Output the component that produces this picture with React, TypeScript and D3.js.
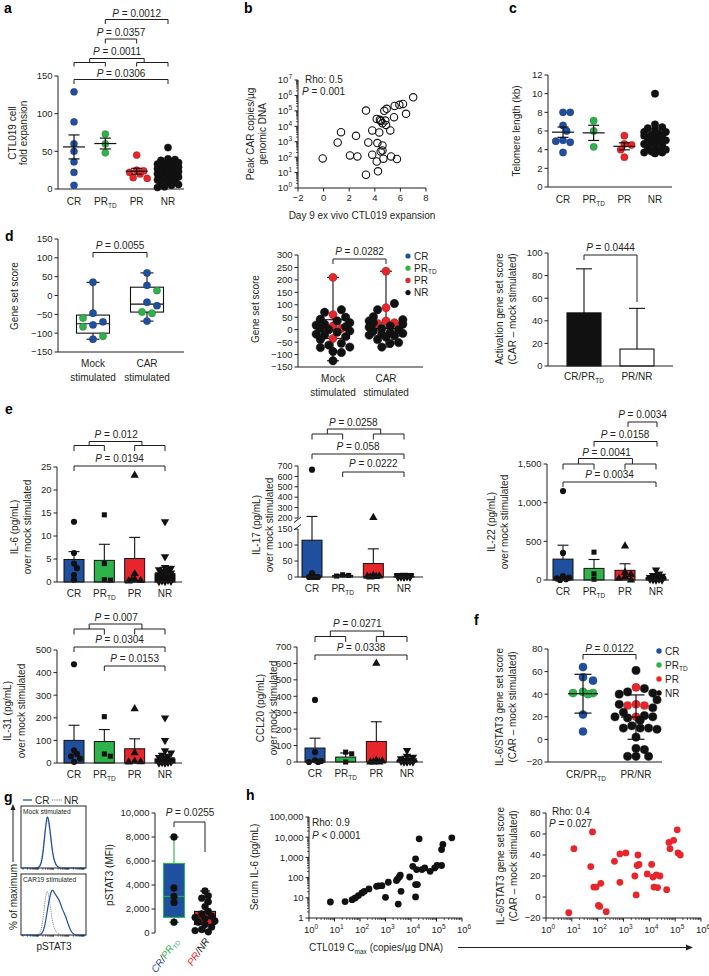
import * as d3 from "d3";

const FONT = "'Liberation Sans', Arial, Helvetica, sans-serif";
const BLUE = "#1f4f9f";
const GREEN = "#2eb34b";
const RED = "#e7262b";
const INK = "#231f20";
const GROUP_COLORS = [BLUE, GREEN, RED, "#111"];

// ---- a: CTL019 fold expansion
const groups = ["CR", "PR_TD", "PR", "NR"];
const aCR = [129, 89, 60, 50, 36, 22, 5];
const aPRTD = [73, 60, 48];
const aPR = [45, 25, 24, 22, 20, 15, 14];
const aNR = [55, 40, 39, 38, 36, 35, 34, 33, 32, 31, 30, 29, 28, 28, 27, 26, 25, 24, 23, 22, 21, 20, 19, 18, 17, 16, 15, 14, 12, 11, 10, 8, 6, 5, 3, 2];
const aTicks = [0, 50, 100, 150];

// ---- b: day 9 expansion vs peak CAR copies
const bExpansion = [-0.07, 1.1, 1.36, 2.06, 2.64, 2.53, 3.31, 3.31, 3.49, 3.8, 3.8, 4.15, 4.2, 4.25, 4.15, 4.4, 4.35, 4.48, 4.46, 4.6, 4.6, 4.6, 4.67, 4.74, 4.93, 4.88, 5.21, 5.27, 5.5, 5.55, 5.73, 5.92, 6.2, 6.44, 7.0, 4.82];
const bPeakCAR = [83, 891, 4170, 129, 112, 2400, 104700, 7.2, 891, 5370, 145, 52, 813, 12, 30200, 26300, 3980, 22400, 234, 15800, 575, 269, 79, 100000, 135000, 12300, 5370, 112, 38900, 209000, 76, 245000, 282000, 64600, 759000, 23400];
const bTicksX = [-2, 0, 2, 4, 6, 8];
const bExponents = [0, 1, 2, 3, 4, 5, 6, 7];

// ---- c: telomere length
const cCR = [8.0, 8.0, 6.6, 6.0, 5.0, 4.8, 4.9, 3.7];
const cPRTD = [7.1, 6.0, 4.3];
const cPR = [5.5, 4.6, 4.5, 4.0, 3.2];
const cNR = [10.0, 6.7, 6.4, 6.3, 6.1, 5.9, 5.9, 5.7, 5.6, 5.5, 5.5, 5.3, 5.2, 5.0, 4.9, 4.8, 4.6, 4.5, 4.4, 4.2, 4.0, 3.9, 3.8, 3.7, 3.7, 3.6];
const cTicks = [0, 2, 4, 6, 8, 10, 12];

// ---- d: gene set scores
const stimCats = ["Mock", "CAR"];
const dMockBlue = [35, -47, -78, -70, -116];
const dMockGreen = [-60, -83, -108];
const dCarBlue = [60, 27, -18, -27, -68];
const dCarGreen = [13, -47, -44];
const dMockBox = [-116, -100, -75, -52, 35];
const dCarBox = [-68, -44, -23, 22, 60];
const dTicks = [-150, -100, -50, 0, 50, 100, 150];

const dmMockRed = [210, 60, 15, 5, -35];
const dmMockBlack = [80, 70, 50, 42, 35, 28, 22, 18, 12, 5, 0, -5, -10, -18, -22, -28, -40, -55, -62, -70, -72, -88, -92, -125];
const dmCarRed = [235, 88, 35, 28, 25];
const dmCarBlack = [105, 80, 52, 40, 35, 28, 22, 15, 10, 5, 0, -5, -10, -15, -18, -22, -25, -30, -40, -52, -55, -70];
const dmMockBox = [-125, -35, -2, 40, 210];
const dmCarBox = [-70, -25, 5, 28, 235];
const dmTicks = [-150, -100, -50, 0, 50, 100, 150, 200, 250, 300];

const actCats = ["CR/PR_TD", "PR/NR"];
const actMean = [47, 15];
const actErr = [86, 51];
const actTicks = [0, 20, 40, 60, 80, 100];

// ---- e: cytokines
const il6CR = [13.1, 6.3, 4.0, 3.0, 1.5, 0.5];
const il6PRTD = [14.6, 4.0, 0.5, 0.4];
const il6PR = [23.2, 1.8, 0.6, 0.3, 0.2, 0.4];
const il6NR = [13.1, 5.5, 3.2, 3.0, 2.7, 2.5, 2.3, 2.0, 1.8, 1.6, 1.3, 1.1, 0.9, 0.7, 0.5, 0.4, 0.3, 0.2, 0.1, 0.1];
const il6Mean = [4.9, 4.7, 5.1, 1.8];
const il6Sem = [6.6, 8.2, 9.7, 3.2];

const il17CR = [665, 12, 0, 0, 0, 0];
const il17PRTD = [7, 5, 3];
const il17PR = [205, 5, 3, 2, 1, 0];
const il17NR = [6, 5, 5, 4, 3, 3, 2, 2, 1, 1, 0, 0, 0, 0];
const il17Mean = [115, 5, 42, 2];
const il17Sem = [215, 7, 88, 3];
const il17LowTicks = [0, 50, 100, 150];
const il17HighTicks = [200, 300, 400, 500, 600, 700];

const il22CR = [1150, 350, 50, 30, 20, 10, 0];
const il22PRTD = [360, 80, 10];
const il22PR = [440, 100, 70, 40, 20, 0];
const il22NR = [130, 80, 60, 50, 45, 35, 30, 20, 20, 15, 10, 10, 5, 0, 0];
const il22Mean = [270, 150, 125, 30];
const il22Sem = [450, 265, 210, 45];

const il31CR = [437, 56, 40, 30, 20, 5];
const il31PRTD = [205, 40, 30];
const il31PR = [240, 45, 8, 5, 4];
const il31NR = [200, 100, 55, 45, 35, 30, 25, 20, 15, 12, 10, 8, 5, 5, 3, 2, 0, 0];
const il31Mean = [100, 95, 63, 18];
const il31Sem = [167, 148, 107, 30];

const ccl20CR = [378, 60, 10, 5, 0, 0];
const ccl20PRTD = [60, 50, 0];
const ccl20PR = [600, 10, 5, 0, 0, 0];
const ccl20NR = [70, 35, 30, 20, 15, 10, 8, 5, 5, 3, 0, 0, 0];
const ccl20Mean = [85, 30, 125, 10];
const ccl20Sem = [145, 55, 245, 35];

// ---- f: IL-6/STAT3 gene set
const fCRBlue = [64, 55, 52, 22, 7];
const fPRTDGreen = [42, 41, 41, 40];
const fPRRed = [46, 31, 30, 30, 20];
const fNRBlack = [61, 45, 42, 41, 40, 35, 31, 28, 24, 21, 20, 20, 19, 17, 12, 10, 10, 10, 9, 2, -8, -9, -15, -15, -15];
const fTicks = [-20, 0, 20, 40, 60, 80];

// ---- g: pSTAT3
const gMockCR = [0, 0, 0, 0, 0, 0, 0, 1, 8, 45, 96, 72, 28, 8, 2, 0, 0, 0, 0, 0, 0, 0, 0, 0, 0, 0];
const gMockNR = [0, 0, 0, 0, 0, 0, 0, 2, 12, 55, 88, 66, 26, 8, 2, 0, 0, 0, 0, 0, 0, 0, 0, 0, 0, 0];
const gCarCR = [0, 0, 0, 0, 0, 0, 0, 0, 2, 10, 38, 64, 80, 70, 64, 56, 42, 34, 20, 8, 2, 0, 0, 0, 0, 0];
const gCarNR = [0, 0, 0, 0, 0, 0, 0, 2, 10, 48, 84, 58, 24, 8, 3, 1, 0, 0, 0, 0, 0, 0, 0, 0, 0, 0];
const gBoxCR = [900, 1300, 3050, 5800, 8000];
const gBoxNR = [100, 700, 1250, 1800, 3500];
const gPtsCR = [8000, 3750, 3050, 2550, 900];
const gPtsNR = [3500, 3100, 2900, 2600, 2200, 1800, 1600, 1400, 1300, 1200, 1000, 900, 700, 500, 300, 200, 100];
const gTicks = [0, 2000, 4000, 6000, 8000, 10000];

// ---- h: Cmax correlations
const hCmax = [6.9, 26, 49, 65, 87, 120, 148, 224, 447, 525, 724, 1000, 1290, 2690, 2950, 3470, 3800, 3160, 4070, 8900, 15100, 15100, 15100, 16600, 17800, 20900, 26900, 56200, 85100, 105000, 158000, 158000, 178000, 398000, 11700, 34700];
const hIL6 = [6.2, 6.5, 8.1, 9.8, 12.9, 17.4, 20.9, 27.5, 37, 39, 40, 10.5, 59, 71, 85, 107, 132, 4.9, 21, 107, 45, 11, 850, 251, 45, 8300, 251, 204, 302, 398, 398, 2450, 4370, 9330, 363, 302];
const hrCmax = [7.6, 12, 54, 63, 71, 87, 107, 120, 132, 214, 447, 724, 724, 1230, 2750, 3090, 3390, 3630, 3980, 8320, 12300, 13800, 15100, 18600, 20900, 25700, 46800, 57500, 63100, 87100, 120000, 129000, 158000];
const hrScore = [-15, 46, 29, 62, 9.5, 9.5, -8, -9, 13, -14, 34, 14, 41, 42, 20, 2, 30, 40, 31, 22, 31, 19, 9.5, 21, 9, 20, 7, 52, 46, 54, 64, 42, 40];
const hIL6Ticks = [1, 10, 100, 1000, 10000, 100000];
const hXExponents = [0, 1, 2, 3, 4, 5, 6];
const hrTicks = [-20, 0, 20, 40, 60, 80];

const comma = d3.format(",");

// ---------- helpers
function swarm(vals: number[], y: (v: number) => number, cx: number, minD: number, step: number, maxOff: number) {
  const placed: { x: number; y: number }[] = [];
  const n = Math.floor(maxOff / step);
  for (const v of vals) {
    const py = y(v);
    let best = cx;
    let bestD = -1;
    for (let k = 0; k <= 2 * n; k++) {
      const off = (k % 2 === 1 ? 1 : -1) * Math.ceil(k / 2) * step;
      const px = cx + off;
      let dd = Infinity;
      for (const p of placed) dd = Math.min(dd, Math.hypot(p.x - px, p.y - py));
      if (dd >= minD) { best = px; bestD = dd; break; }
      if (dd > bestD) { bestD = dd; best = px; }
    }
    placed.push({ x: best, y: py });
  }
  return placed;
}

function Lbl({ s, fs = 10 }: { s: string; fs?: number }) {
  const i = s.indexOf("_TD");
  if (i < 0) return <>{s}</>;
  const rest = s.slice(i + 3);
  return (
    <>
      {s.slice(0, i)}
      <tspan fontSize={fs * 0.65} dy={2.5}>TD</tspan>
      {rest ? <tspan dy={-2.5}>{rest}</tspan> : null}
    </>
  );
}

function Cat({ x, y, c, fs = 10 }: { x: number; y: number; c: string; fs?: number }) {
  return <text x={x} y={y} textAnchor="middle" fontSize={fs}><Lbl s={c} fs={fs} /></text>;
}

function PanelLabel({ x, y, t }: { x: number; y: number; t: string }) {
  return <text x={x} y={y} fontSize={14} fontWeight="bold" fill="#000">{t}</text>;
}

function VTitle({ x, y, lines, gap = 12.5, fs = 10 }: { x: number; y: number; lines: string[]; gap?: number; fs?: number }) {
  return (
    <g>
      {lines.map((l, i) => (
        <text key={i} transform={`translate(${x + i * gap},${y}) rotate(-90)`} textAnchor="middle" fontSize={fs}>{l}</text>
      ))}
    </g>
  );
}

function PText({ x, y, p, rel = "=" }: { x: number; y: number; p: string; rel?: string }) {
  return (
    <text x={x} y={y} textAnchor="middle" fontSize={10}>
      <tspan fontStyle="italic">P</tspan> {rel} {p}
    </text>
  );
}

function LeftAxis({ x, y, ticks, fmt = comma, fs = 9.5 }: { x: number; y: any; ticks: number[]; fmt?: (n: number) => string; fs?: number }) {
  const [a, b] = y.range();
  return (
    <g>
      <line x1={x} x2={x} y1={a} y2={b} stroke={INK} />
      {ticks.map((t) => (
        <g key={t}>
          <line x1={x - 3.5} x2={x} y1={y(t)} y2={y(t)} stroke={INK} />
          <text x={x - 5.5} y={y(t) + 3.4} textAnchor="end" fontSize={fs}>{fmt(t)}</text>
        </g>
      ))}
    </g>
  );
}

function Bracket({ x1, x2, y, l1 = 5, l2 = 5 }: { x1: number; x2: number; y: number; l1?: number; l2?: number }) {
  return <path d={`M${x1},${y + l1}V${y}H${x2}V${y + l2}`} fill="none" stroke={INK} strokeWidth={1} />;
}

function GroupBracket({ a1, a2, b1, b2, yTop, ySub, leg = 5.5 }: { a1: number; a2: number; b1: number; b2: number; yTop: number; ySub: number; leg?: number }) {
  const cl = (a1 + a2) / 2;
  const cr = b1 + 0.24 * (b2 - b1);
  return (
    <g fill="none" stroke={INK} strokeWidth={1}>
      <path d={`M${a1},${ySub + leg}V${ySub}H${a2}V${ySub + leg}`} />
      <path d={`M${b1},${ySub + leg}V${ySub}H${b2}V${ySub + leg}`} />
      <path d={`M${cl},${ySub}V${yTop}H${cr}V${ySub}`} />
    </g>
  );
}

function MeanErr({ cx, y, vals, sd = false, hw, cw }: { cx: number; y: any; vals: number[]; sd?: boolean; hw: number; cw: number }) {
  const m = d3.mean(vals) as number;
  const s = d3.deviation(vals) ?? 0;
  const e = sd ? s : s / Math.sqrt(vals.length);
  const y0 = y(m), yh = y(m + e), yl = y(m - e);
  return (
    <g stroke="#111" strokeWidth={1.2} fill="none">
      <line x1={cx - hw} x2={cx + hw} y1={y0} y2={y0} />
      <line x1={cx} x2={cx} y1={yh} y2={yl} />
      <line x1={cx - cw} x2={cx + cw} y1={yh} y2={yh} />
      <line x1={cx - cw} x2={cx + cw} y1={yl} y2={yl} />
    </g>
  );
}

function Box({ cx, w, y, s, stroke = "#111", fill = "none", cap = 12 }: { cx: number; w: number; y: any; s: number[]; stroke?: string; fill?: string; cap?: number }) {
  const [mn, q1, md, q3, mx] = s;
  return (
    <g stroke={stroke} strokeWidth={1.1} fill="none">
      <line x1={cx} x2={cx} y1={y(mx)} y2={y(q3)} />
      <line x1={cx} x2={cx} y1={y(q1)} y2={y(mn)} />
      <line x1={cx - cap / 2} x2={cx + cap / 2} y1={y(mx)} y2={y(mx)} />
      <line x1={cx - cap / 2} x2={cx + cap / 2} y1={y(mn)} y2={y(mn)} />
      <rect x={cx - w / 2} y={y(q3)} width={w} height={y(q1) - y(q3)} fill={fill} />
      <line x1={cx - w / 2} x2={cx + w / 2} y1={y(md)} y2={y(md)} />
    </g>
  );
}

function ColorDots({ cx, y, vals, colors, r, minD, step, maxOff }: { cx: number; y: any; vals: number[]; colors: string[]; r: number; minD: number; step: number; maxOff: number }) {
  const pts = swarm(vals, y, cx, minD, step, maxOff);
  return (
    <g>
      {pts.map((p, i) => (
        <circle key={i} cx={p.x} cy={p.y} r={r} fill={colors[i]} stroke={colors[i] === "#111" ? "#111" : "rgba(0,0,0,0.35)"} strokeWidth={0.5} />
      ))}
    </g>
  );
}

// ---------- panels
function PanelA() {
  const y = d3.scaleLinear().domain([0, 150]).range([189, 76]);
  const x = d3.scalePoint<string>().domain(groups).range([74, 168]);
  const sets = [aCR, aPRTD, aPR, aNR];
  const X = (g: string) => x(g) as number;
  return (
    <g>
      <PanelLabel x={4} y={13} t="a" />
      <LeftAxis x={58} y={y} ticks={aTicks} />
      <line x1={58} x2={184} y1={189} y2={189} stroke={INK} />
      {groups.map((g) => <Cat key={g} x={X(g)} y={205} c={g} />)}
      <VTitle x={16} y={133} lines={["CTL019 cell", "fold expansion"]} gap={11} />
      {sets.map((vals, i) => (
        <ColorDots key={i} cx={X(groups[i])} y={y} vals={vals} colors={vals.map(() => GROUP_COLORS[i])} r={3.6} minD={6} step={3.5} maxOff={12} />
      ))}
      {sets.map((vals, i) => <MeanErr key={i} cx={X(groups[i])} y={y} vals={vals} hw={11} cw={5.5} />)}
      <PText x={(X("PR_TD") + X("NR")) / 2} y={17} p="0.0012" />
      <Bracket x1={X("PR_TD")} x2={X("NR")} y={19.5} l1={4.5} l2={4.5} />
      <PText x={(X("PR_TD") + X("PR")) / 2} y={35.5} p="0.0357" />
      <Bracket x1={X("PR_TD")} x2={X("PR")} y={39} l1={4.5} l2={4.5} />
      <PText x={117} y={54.5} p="0.0011" />
      <GroupBracket a1={X("CR")} a2={X("PR_TD")} b1={X("PR")} b2={X("NR")} yTop={58.5} ySub={62.5} leg={4} />
      <PText x={(X("CR") + X("NR")) / 2} y={76.5} p="0.0306" />
      <Bracket x1={X("CR")} x2={X("NR")} y={79.5} l1={4.5} l2={4.5} />
    </g>
  );
}

function PanelB() {
  const x = d3.scaleLinear().domain([-2, 8]).range([298, 426]);
  const y = d3.scaleLog().domain([1, 1e7]).range([188, 80]);
  const minors: number[] = [];
  bExponents.slice(0, -1).forEach((e) => [2, 3, 4, 5, 6, 7, 8, 9].forEach((m) => minors.push(m * Math.pow(10, e))));
  return (
    <g>
      <PanelLabel x={244} y={13} t="b" />
      <line x1={298} x2={298} y1={188} y2={80} stroke={INK} />
      <line x1={298} x2={426} y1={188} y2={188} stroke={INK} />
      {minors.map((m, i) => <line key={i} x1={296} x2={298} y1={y(m)} y2={y(m)} stroke={INK} strokeWidth={0.8} />)}
      {bExponents.map((e) => (
        <g key={e}>
          <line x1={294.5} x2={298} y1={y(Math.pow(10, e))} y2={y(Math.pow(10, e))} stroke={INK} />
          <text x={292} y={y(Math.pow(10, e)) + 3.4} textAnchor="end" fontSize={9.5}>10<tspan dy={-4} fontSize={6.5}>{e}</tspan></text>
        </g>
      ))}
      {bTicksX.map((t) => (
        <g key={t}>
          <line x1={x(t)} x2={x(t)} y1={188} y2={191.5} stroke={INK} />
          <text x={x(t)} y={201} textAnchor="middle" fontSize={9.5}>{comma(t)}</text>
        </g>
      ))}
      {bExpansion.map((v, i) => (
        <circle key={i} cx={x(v)} cy={y(bPeakCAR[i])} r={3.7} fill="none" stroke="#111" strokeWidth={1.1} />
      ))}
      <text x={305} y={83} fontSize={10}>Rho: 0.5</text>
      <text x={302} y={95} fontSize={10}><tspan fontStyle="italic">P</tspan> = 0.001</text>
      <text x={362} y={219} textAnchor="middle" fontSize={10}>Day 9 ex vivo CTL019 expansion</text>
      <VTitle x={254} y={134} lines={["Peak CAR copies/µg", "genomic DNA"]} gap={12} />
    </g>
  );
}

function PanelC() {
  const y = d3.scaleLinear().domain([0, 12]).range([187, 75]);
  const x = d3.scalePoint<string>().domain(groups).range([563, 655]);
  const sets = [cCR, cPRTD, cPR, cNR];
  const X = (g: string) => x(g) as number;
  return (
    <g>
      <PanelLabel x={509} y={13} t="c" />
      <LeftAxis x={548} y={y} ticks={cTicks} />
      <line x1={548} x2={672} y1={187} y2={187} stroke={INK} />
      {groups.map((g) => <Cat key={g} x={X(g)} y={203} c={g} />)}
      <VTitle x={520} y={131} lines={["Telomere length (kb)"]} />
      {sets.map((vals, i) => (
        <ColorDots key={i} cx={X(groups[i])} y={y} vals={vals} colors={vals.map(() => GROUP_COLORS[i])} r={3.7} minD={6.2} step={3.6} maxOff={13} />
      ))}
      {sets.map((vals, i) => <MeanErr key={i} cx={X(groups[i])} y={y} vals={vals} hw={11} cw={5.5} />)}
    </g>
  );
}

function PanelDLeft() {
  const y = d3.scaleLinear().domain([-150, 150]).range([352, 239]);
  const x = d3.scalePoint<string>().domain(stimCats).range([93, 147]);
  const mock = [...dMockBlue, ...dMockGreen];
  const car = [...dCarBlue, ...dCarGreen];
  const mockC = [...dMockBlue.map(() => BLUE), ...dMockGreen.map(() => GREEN)];
  const carC = [...dCarBlue.map(() => BLUE), ...dCarGreen.map(() => GREEN)];
  const X = (g: string) => x(g) as number;
  return (
    <g>
      <PanelLabel x={5} y={241} t="d" />
      <LeftAxis x={58} y={y} ticks={dTicks} />
      <line x1={58} x2={184} y1={352} y2={352} stroke={INK} />
      <Box cx={X("Mock")} w={33} y={y} s={dMockBox} cap={13} />
      <Box cx={X("CAR")} w={33} y={y} s={dCarBox} cap={13} />
      <ColorDots cx={X("Mock")} y={y} vals={mock} colors={mockC} r={3.7} minD={8} step={5} maxOff={15} />
      <ColorDots cx={X("CAR")} y={y} vals={car} colors={carC} r={3.7} minD={8} step={5} maxOff={15} />
      {stimCats.map((c) => (
        <g key={c}>
          <text x={X(c)} y={367} textAnchor="middle" fontSize={10}>{c}</text>
          <text x={X(c)} y={381} textAnchor="middle" fontSize={10}>stimulated</text>
        </g>
      ))}
      <VTitle x={18} y={296} lines={["Gene set score"]} />
      <PText x={(X("Mock") + X("CAR")) / 2} y={248.5} p="0.0055" />
      <Bracket x1={X("Mock")} x2={X("CAR")} y={252.5} l1={5} l2={5} />
    </g>
  );
}

function PanelDMid() {
  const y = d3.scaleLinear().domain([-150, 300]).range([367, 255]);
  const x = d3.scalePoint<string>().domain(stimCats).range([333, 386]);
  const mock = [...dmMockRed, ...dmMockBlack];
  const car = [...dmCarRed, ...dmCarBlack];
  const mockC = [...dmMockRed.map(() => RED), ...dmMockBlack.map(() => "#111")];
  const carC = [...dmCarRed.map(() => RED), ...dmCarBlack.map(() => "#111")];
  const X = (g: string) => x(g) as number;
  const legend = ["CR", "PR_TD", "PR", "NR"];
  return (
    <g>
      <LeftAxis x={298} y={y} ticks={dmTicks} />
      <line x1={298} x2={423} y1={367} y2={367} stroke={INK} />
      <Box cx={X("Mock")} w={33} y={y} s={dmMockBox} cap={12} />
      <Box cx={X("CAR")} w={33} y={y} s={dmCarBox} cap={12} />
      <ColorDots cx={X("Mock")} y={y} vals={mock} colors={mockC} r={4.2} minD={7.5} step={4.2} maxOff={17} />
      <ColorDots cx={X("CAR")} y={y} vals={car} colors={carC} r={4.2} minD={7.5} step={4.2} maxOff={17} />
      {stimCats.map((c) => (
        <g key={c}>
          <text x={X(c)} y={382} textAnchor="middle" fontSize={10}>{c}</text>
          <text x={X(c)} y={396} textAnchor="middle" fontSize={10}>stimulated</text>
        </g>
      ))}
      <VTitle x={259} y={309} lines={["Gene set score"]} />
      <PText x={(X("Mock") + X("CAR")) / 2} y={255} p="0.0282" />
      <Bracket x1={X("Mock")} x2={X("CAR")} y={259} l1={5} l2={5} />
      {legend.map((l, i) => (
        <g key={l}>
          <circle cx={408} cy={256 + i * 12.2} r={2.6} fill={GROUP_COLORS[i]} />
          <text x={414} y={259.5 + i * 12.2} fontSize={10}><Lbl s={l} /></text>
        </g>
      ))}
    </g>
  );
}

function PanelDRight() {
  const y = d3.scaleLinear().domain([0, 100]).range([366, 253]);
  const x = d3.scalePoint<string>().domain(actCats).range([584, 637]);
  const X = (g: string) => x(g) as number;
  const fills = ["#111", "#fff"];
  return (
    <g>
      <LeftAxis x={548} y={y} ticks={actTicks} />
      {actCats.map((c, i) => (
        <g key={c}>
          <line x1={X(c)} x2={X(c)} y1={y(actMean[i])} y2={y(actErr[i])} stroke="#111" strokeWidth={1.1} />
          <line x1={X(c) - 8} x2={X(c) + 8} y1={y(actErr[i])} y2={y(actErr[i])} stroke="#111" strokeWidth={1.1} />
          <rect x={X(c) - 17} y={y(actMean[i])} width={34} height={y(0) - y(actMean[i])} fill={fills[i]} stroke="#111" strokeWidth={1.1} />
          <Cat x={X(c)} y={380} c={c} />
        </g>
      ))}
      <line x1={548} x2={673} y1={366} y2={366} stroke={INK} />
      <VTitle x={503} y={309} lines={["Activation gene set score", "(CAR \u2013 mock stimulated)"]} gap={12.5} />
      <PText x={(X("CR/PR_TD") + X("PR/NR")) / 2} y={250.5} p="0.0444" />
      <Bracket x1={X("CR/PR_TD")} x2={X("PR/NR")} y={255} l1={5} l2={47} />
    </g>
  );
}

const SYMBOLS = [d3.symbolCircle, d3.symbolSquare, d3.symbolTriangle, d3.symbolTriangle];

function CytoPanel({ yf, xs, base, axisX, xEnd, sets, means, errs, catY }: { yf: (v: number) => number; xs: [number, number]; base: number; axisX: number; xEnd: number; sets: number[][]; means: number[]; errs: number[]; catY: number }) {
  const x = d3.scalePoint<string>().domain(groups).range(xs);
  return (
    <g>
      {groups.map((g, i) => {
        const cx = x(g) as number;
        const top = yf(means[i]);
        const et = yf(errs[i]);
        const pts = swarm(sets[i], yf, cx, 4.6, 3, 8);
        const sym = d3.symbol().type(SYMBOLS[i]).size(i === 1 ? 26 : 30)() as string;
        return (
          <g key={g}>
            <line x1={cx} x2={cx} y1={top} y2={et} stroke="#111" strokeWidth={1.1} />
            <line x1={cx - 5.5} x2={cx + 5.5} y1={et} y2={et} stroke="#111" strokeWidth={1.1} />
            <rect x={cx - 10} y={top} width={20} height={base - top} fill={GROUP_COLORS[i]} stroke="#111" strokeWidth={1} />
            {pts.map((p, j) => (
              <path key={j} d={sym} transform={`translate(${p.x},${p.y})${i === 3 ? " rotate(180)" : ""}`} fill="#111" />
            ))}
            <Cat x={cx} y={catY} c={g} />
          </g>
        );
      })}
      <line x1={axisX} x2={xEnd} y1={base} y2={base} stroke={INK} />
    </g>
  );
}

function PanelE() {
  const y6 = d3.scaleLinear().domain([0, 25]).range([582, 467]);
  const x6 = d3.scalePoint<string>().domain(groups).range([74, 165]);
  const yLow = d3.scaleLinear().domain([0, 150]).range([577, 529]);
  const yHigh = d3.scaleLinear().domain([200, 700]).range([518, 466]);
  const y17 = (v: number) => (v <= 175 ? yLow(v) : yHigh(v));
  const x17 = d3.scalePoint<string>().domain(groups).range([312, 404]);
  const y22 = d3.scaleLinear().domain([0, 1500]).range([580, 464]);
  const x22 = d3.scalePoint<string>().domain(groups).range([563, 656]);
  const y31 = d3.scaleLinear().domain([0, 500]).range([763, 650]);
  const ycc = d3.scaleLinear().domain([0, 700]).range([762, 647]);
  const xcc = d3.scalePoint<string>().domain(groups).range([315, 407]);
  const A = (g: string) => x6(g) as number;
  const B = (g: string) => x17(g) as number;
  const C = (g: string) => x22(g) as number;
  const D = (g: string) => xcc(g) as number;
  return (
    <g>
      <PanelLabel x={5} y={414} t="e" />
      {/* IL-6 */}
      <LeftAxis x={57} y={y6} ticks={[0, 5, 10, 15, 20, 25]} />
      <CytoPanel yf={y6} xs={[74, 165]} base={582} axisX={57} xEnd={182} sets={[il6CR, il6PRTD, il6PR, il6NR]} means={il6Mean} errs={il6Sem} catY={597} />
      <VTitle x={18} y={527} lines={["IL-6 (pg/mL)", "over mock stimulated"]} gap={13} />
      <PText x={(A("CR") + A("PR_TD")) / 2 + 27} y={437.5} p="0.012" />
      <GroupBracket a1={A("CR")} a2={A("PR_TD")} b1={A("PR")} b2={A("NR")} yTop={441.5} ySub={445.5} />
      <PText x={(A("CR") + A("NR")) / 2} y={462} p="0.0194" />
      <Bracket x1={A("CR")} x2={A("NR")} y={466} />

      {/* IL-17 broken axis */}
      <line x1={298} x2={298} y1={577} y2={529} stroke={INK} />
      <line x1={298} x2={298} y1={518} y2={466} stroke={INK} />
      <line x1={294} x2={301} y1={530} y2={524.5} stroke={INK} />
      <line x1={294} x2={301} y1={522.5} y2={517} stroke={INK} />
      {il17LowTicks.map((t) => (
        <g key={"l" + t}>
          <line x1={294.5} x2={298} y1={yLow(t)} y2={yLow(t)} stroke={INK} />
          <text x={292.5} y={yLow(t) + 3.2} textAnchor="end" fontSize={9}>{t}</text>
        </g>
      ))}
      {il17HighTicks.map((t) => (
        <g key={"h" + t}>
          <line x1={294.5} x2={298} y1={yHigh(t)} y2={yHigh(t)} stroke={INK} />
          <text x={292.5} y={yHigh(t) + 3.2} textAnchor="end" fontSize={9}>{t}</text>
        </g>
      ))}
      <CytoPanel yf={y17} xs={[312, 404]} base={577} axisX={298} xEnd={423} sets={[il17CR, il17PRTD, il17PR, il17NR]} means={il17Mean} errs={il17Sem} catY={592} />
      <VTitle x={260} y={525} lines={["IL-17 (pg/mL)", "over mock stimulated"]} gap={12.5} />
      <PText x={(B("CR") + B("PR_TD")) / 2 + 26} y={425.5} p="0.0258" />
      <GroupBracket a1={B("CR")} a2={B("PR_TD")} b1={B("PR")} b2={B("NR")} yTop={429} ySub={434} />
      <PText x={(B("CR") + B("NR")) / 2} y={449.5} p="0.058" />
      <Bracket x1={B("CR")} x2={B("NR")} y={454} />
      <PText x={(B("PR_TD") + B("NR")) / 2} y={467} p="0.0222" />
      <Bracket x1={B("PR_TD")} x2={B("NR")} y={472} />

      {/* IL-22 */}
      <LeftAxis x={547} y={y22} ticks={[0, 500, 1000, 1500]} />
      <CytoPanel yf={y22} xs={[563, 656]} base={580} axisX={547} xEnd={669} sets={[il22CR, il22PRTD, il22PR, il22NR]} means={il22Mean} errs={il22Sem} catY={595} />
      <VTitle x={495} y={522} lines={["IL-22 (pg/mL)", "over mock stimulated"]} gap={12.5} />
      <PText x={(C("PR") + C("NR")) / 2 + 2} y={418} p="0.0034" />
      <Bracket x1={C("PR") + 3} x2={C("NR") + 1} y={422} />
      <PText x={(C("PR_TD") + C("NR")) / 2} y={437.5} p="0.0158" />
      <Bracket x1={C("PR_TD")} x2={C("NR") + 1} y={441.5} />
      <PText x={(C("CR") + C("PR_TD")) / 2 + 28} y={456} p="0.0041" />
      <GroupBracket a1={C("CR")} a2={C("PR_TD")} b1={C("PR")} b2={C("NR")} yTop={458.5} ySub={464} />
      <PText x={(C("CR") + C("NR")) / 2} y={478} p="0.0034" />
      <Bracket x1={C("CR")} x2={C("NR")} y={482} />

      {/* IL-31 */}
      <LeftAxis x={57} y={y31} ticks={[0, 100, 200, 300, 400, 500]} />
      <CytoPanel yf={y31} xs={[74, 165]} base={763} axisX={57} xEnd={182} sets={[il31CR, il31PRTD, il31PR, il31NR]} means={il31Mean} errs={il31Sem} catY={778} />
      <VTitle x={11} y={711} lines={["IL-31 (pg/mL)", "over mock stimulated"]} gap={13.5} />
      <PText x={(A("CR") + A("PR_TD")) / 2 + 27} y={620.5} p="0.007" />
      <GroupBracket a1={A("CR")} a2={A("PR_TD")} b1={A("PR")} b2={A("NR")} yTop={624} ySub={629} />
      <PText x={(A("CR") + A("NR")) / 2} y={643} p="0.0304" />
      <Bracket x1={A("CR")} x2={A("NR")} y={647} />
      <PText x={(A("PR_TD") + A("NR")) / 2} y={662} p="0.0153" />
      <Bracket x1={A("PR_TD")} x2={A("NR")} y={666} />

      {/* CCL20 */}
      <LeftAxis x={297} y={ycc} ticks={[0, 100, 200, 300, 400, 500, 600, 700]} />
      <CytoPanel yf={ycc} xs={[315, 407]} base={762} axisX={297} xEnd={423} sets={[ccl20CR, ccl20PRTD, ccl20PR, ccl20NR]} means={ccl20Mean} errs={ccl20Sem} catY={777} />
      <VTitle x={264} y={708} lines={["CCL20 (pg/mL)", "over mock stimulated"]} gap={13} />
      <PText x={(D("CR") + D("PR_TD")) / 2 + 27} y={627} p="0.0271" />
      <GroupBracket a1={D("CR")} a2={D("PR_TD")} b1={D("PR")} b2={D("NR")} yTop={631} ySub={636.5} />
      <PText x={(D("CR") + D("NR")) / 2} y={650.5} p="0.0338" />
      <Bracket x1={D("CR")} x2={D("NR")} y={655} />
    </g>
  );
}

function PanelF() {
  const y = d3.scaleLinear().domain([-20, 80]).range([762, 649]);
  const x = d3.scalePoint<string>().domain(actCats).range([583, 636]);
  const X = (g: string) => x(g) as number;
  const left = [...fCRBlue, ...fPRTDGreen];
  const leftC = [...fCRBlue.map(() => BLUE), ...fPRTDGreen.map(() => GREEN)];
  const right = [...fPRRed, ...fNRBlack];
  const rightC = [...fPRRed.map(() => RED), ...fNRBlack.map(() => "#111")];
  const legend = ["CR", "PR_TD", "PR", "NR"];
  return (
    <g>
      <PanelLabel x={474} y={625} t="f" />
      <LeftAxis x={548} y={y} ticks={fTicks} />
      <line x1={548} x2={662} y1={762} y2={762} stroke={INK} />
      <ColorDots cx={X("CR/PR_TD")} y={y} vals={left} colors={leftC} r={4.1} minD={8} step={5} maxOff={12} />
      <ColorDots cx={X("PR/NR")} y={y} vals={right} colors={rightC} r={4.1} minD={7.6} step={4.2} maxOff={22} />
      <MeanErr cx={X("CR/PR_TD")} y={y} vals={left} sd hw={15} cw={8.5} />
      <MeanErr cx={X("PR/NR")} y={y} vals={right} sd hw={15} cw={8.5} />
      <Cat x={X("CR/PR_TD") + 3} y={778} c="CR/PR_TD" />
      <Cat x={X("PR/NR")} y={778} c="PR/NR" />
      <VTitle x={503} y={707} lines={["IL-6/STAT3 gene set score", "(CAR \u2013 mock stimulated)"]} gap={12.5} />
      <PText x={(X("CR/PR_TD") + X("PR/NR")) / 2} y={651.5} p="0.0122" />
      <Bracket x1={X("CR/PR_TD")} x2={X("PR/NR")} y={654.5} />
      {legend.map((l, i) => (
        <g key={l}>
          <circle cx={659} cy={651 + i * 14} r={2.7} fill={GROUP_COLORS[i]} />
          <text x={665} y={654.5 + i * 14} fontSize={10}><Lbl s={l} /></text>
        </g>
      ))}
    </g>
  );
}

function Hist({ x0, x1, y0, y1, vals, color, dotted }: { x0: number; x1: number; y0: number; y1: number; vals: number[]; color: string; dotted?: boolean }) {
  const x = d3.scaleLinear().domain([0, vals.length - 1]).range([x0, x1]);
  const y = d3.scaleLinear().domain([0, 100]).range([y1, y0]);
  const line = d3.line<number>().x((_, i) => x(i)).y((v) => y(v)).curve(d3.curveBasis);
  return <path d={line(vals) as string} fill="none" stroke={color} strokeWidth={dotted ? 1 : 1.2} strokeDasharray={dotted ? "1.2,1" : undefined} />;
}

function PanelG() {
  const bx0 = 21, bx1 = 86;
  const logX = d3.scaleLog().domain([10, 1e5]).range([bx0 + 2, bx1 - 2]);
  const minor = logX.ticks();
  const y = d3.scaleLinear().domain([0, 10000]).range([933, 813]);
  const x = d3.scalePoint<string>().domain(actCats).range([174, 205]);
  const X = (g: string) => x(g) as number;
  const boxes = [
    { top: 806, bot: 868, label: "Mock stimulated", cr: gMockCR, nr: gMockNR },
    { top: 874, bot: 935, label: "CAR19 stimulated", cr: gCarCR, nr: gCarNR },
  ];
  return (
    <g>
      <PanelLabel x={4} y={802} t="g" />
      <line x1={23} x2={32} y1={800} y2={800} stroke={BLUE} strokeWidth={1.3} />
      <text x={35} y={804} fontSize={10}>CR</text>
      <line x1={52} x2={62} y1={800} y2={800} stroke="#777" strokeWidth={1.1} strokeDasharray="1.2,1" />
      <text x={64} y={804} fontSize={10}>NR</text>
      {boxes.map((b) => (
        <g key={b.label}>
          <rect x={bx0} y={b.top} width={bx1 - bx0} height={b.bot - b.top} fill="none" stroke="#111" strokeWidth={0.9} />
          <text x={bx0 + 2} y={b.top + 7.5} fontSize={6.6}>{b.label}</text>
          <Hist x0={bx0} x1={bx1} y0={b.top + 2} y1={b.bot} vals={b.nr} color="#888" dotted />
          <Hist x0={bx0} x1={bx1} y0={b.top + 2} y1={b.bot} vals={b.cr} color={BLUE} />
          {minor.map((t, i) => <line key={i} x1={logX(t)} x2={logX(t)} y1={b.bot} y2={b.bot + 1.8} stroke="#111" strokeWidth={0.6} />)}
        </g>
      ))}
      <path d="M13,862V808" stroke={INK} strokeWidth={1} />
      <path d="M13,804L10.5,810H15.5Z" fill={INK} />
      <VTitle x={16.5} y={897} lines={["% of maximum"]} fs={10} />
      <text x={54} y={950} textAnchor="middle" fontSize={10}>pSTAT3</text>

      <LeftAxis x={155} y={y} ticks={gTicks} />
      <Box cx={X("CR/PR_TD")} w={21} y={y} s={gBoxCR} stroke={GREEN} fill={BLUE} cap={10} />
      <Box cx={X("PR/NR")} w={21} y={y} s={gBoxNR} stroke="#111" fill={RED} cap={10} />
      <ColorDots cx={X("CR/PR_TD")} y={y} vals={gPtsCR} colors={gPtsCR.map(() => "#111")} r={3.4} minD={6} step={3.5} maxOff={8} />
      <ColorDots cx={X("PR/NR")} y={y} vals={gPtsNR} colors={gPtsNR.map(() => "#111")} r={3.4} minD={5.5} step={3.3} maxOff={10} />
      <VTitle x={113} y={875} lines={["pSTAT3 (MFI)"]} />
      <PText x={190} y={816} p="0.0255" />
      <Bracket x1={X("CR/PR_TD")} x2={X("PR/NR")} y={822} l1={5} l2={30} />
      <text transform={`translate(${X("CR/PR_TD") + 5},${941}) rotate(-55)`} textAnchor="end" fontSize={10} fontStyle="italic">
        <tspan fill={BLUE}>CR</tspan><tspan fill="#111">/</tspan><tspan fill={GREEN}>PR</tspan><tspan fill={GREEN} fontSize={6.5} dy={2.5}>TD</tspan>
      </text>
      <text transform={`translate(${X("PR/NR") + 5},${941}) rotate(-55)`} textAnchor="end" fontSize={10} fontStyle="italic">
        <tspan fill={RED}>PR</tspan><tspan fill="#111">/NR</tspan>
      </text>
    </g>
  );
}

function LogXAxis({ x, y0, exps }: { x: any; y0: number; exps: number[] }) {
  const minors: number[] = [];
  exps.slice(0, -1).forEach((e) => [2, 3, 4, 5, 6, 7, 8, 9].forEach((m) => minors.push(m * Math.pow(10, e))));
  const [r0, r1] = x.range();
  return (
    <g>
      <line x1={r0} x2={r1} y1={y0} y2={y0} stroke={INK} />
      {minors.map((m, i) => <line key={i} x1={x(m)} x2={x(m)} y1={y0} y2={y0 + 2} stroke={INK} strokeWidth={0.8} />)}
      {exps.map((e) => (
        <g key={e}>
          <line x1={x(Math.pow(10, e))} x2={x(Math.pow(10, e))} y1={y0} y2={y0 + 3.5} stroke={INK} />
          <text x={x(Math.pow(10, e)) + 2} y={y0 + 15} textAnchor="middle" fontSize={9.5}>10<tspan dy={-4} fontSize={6.5}>{e}</tspan></text>
        </g>
      ))}
    </g>
  );
}

function PanelH() {
  const xL = d3.scaleLog().domain([1, 1e6]).range([309, 462]);
  const yL = d3.scaleLog().domain([1, 1e5]).range([918, 817]);
  const xR = d3.scaleLog().domain([1, 1e6]).range([546, 701]);
  const yR = d3.scaleLinear().domain([-20, 80]).range([918, 813]);
  const yMinors: number[] = [];
  hIL6Ticks.slice(0, -1).forEach((t) => [2, 3, 4, 5, 6, 7, 8, 9].forEach((m) => yMinors.push(m * t)));
  return (
    <g>
      <PanelLabel x={246} y={800} t="h" />
      <line x1={309} x2={309} y1={918} y2={817} stroke={INK} />
      {yMinors.map((m, i) => <line key={i} x1={307} x2={309} y1={yL(m)} y2={yL(m)} stroke={INK} strokeWidth={0.8} />)}
      {hIL6Ticks.map((t) => (
        <g key={t}>
          <line x1={305.5} x2={309} y1={yL(t)} y2={yL(t)} stroke={INK} />
          <text x={303.5} y={yL(t) + 3.4} textAnchor="end" fontSize={9.5}>{comma(t)}</text>
        </g>
      ))}
      <LogXAxis x={xL} y0={918} exps={hXExponents} />
      {hCmax.map((v, i) => <circle key={i} cx={xL(v)} cy={yL(hIL6[i])} r={3.4} fill="#111" />)}
      <text x={312} y={826} fontSize={10}>Rho: 0.9</text>
      <text x={312} y={838.5} fontSize={10}><tspan fontStyle="italic">P</tspan> &lt; 0.0001</text>
      <VTitle x={258} y={867} lines={["Serum IL-6 (pg/mL)"]} />
      <text x={309} y={951} fontSize={10}>CTL019 C<tspan fontSize={6.5} dy={2.5}>max</tspan><tspan dy={-2.5}> (copies/µg DNA)</tspan></text>
      <line x1={458} x2={688} y1={947.5} y2={947.5} stroke={INK} strokeWidth={1} />
      <path d="M693,947.5L686,944.5V950.5Z" fill={INK} />

      <LeftAxis x={546} y={yR} ticks={hrTicks} />
      <LogXAxis x={xR} y0={918} exps={hXExponents} />
      {hrCmax.map((v, i) => <circle key={i} cx={xR(v)} cy={yR(hrScore[i])} r={3.4} fill={RED} />)}
      <text x={552} y={815} fontSize={10}>Rho: 0.4</text>
      <text x={549} y={826.5} fontSize={10}><tspan fontStyle="italic">P</tspan> = 0.027</text>
      <VTitle x={504} y={866} lines={["IL-6/STAT3 gene set score", "(CAR \u2013 mock stimulated)"]} gap={12.5} />
    </g>
  );
}

export default function App() {
  return (
    <div style={{ position: "absolute", left: 0, top: 0, background: "#fff" }}>
      <svg width={709} height={976} viewBox="0 0 709 976" style={{ display: "block", fontFamily: FONT }} fill={INK}>
        <rect width={709} height={976} fill="#fff" />
        <PanelA />
        <PanelB />
        <PanelC />
        <PanelDLeft />
        <PanelDMid />
        <PanelDRight />
        <PanelE />
        <PanelF />
        <PanelG />
        <PanelH />
      </svg>
    </div>
  );
}
